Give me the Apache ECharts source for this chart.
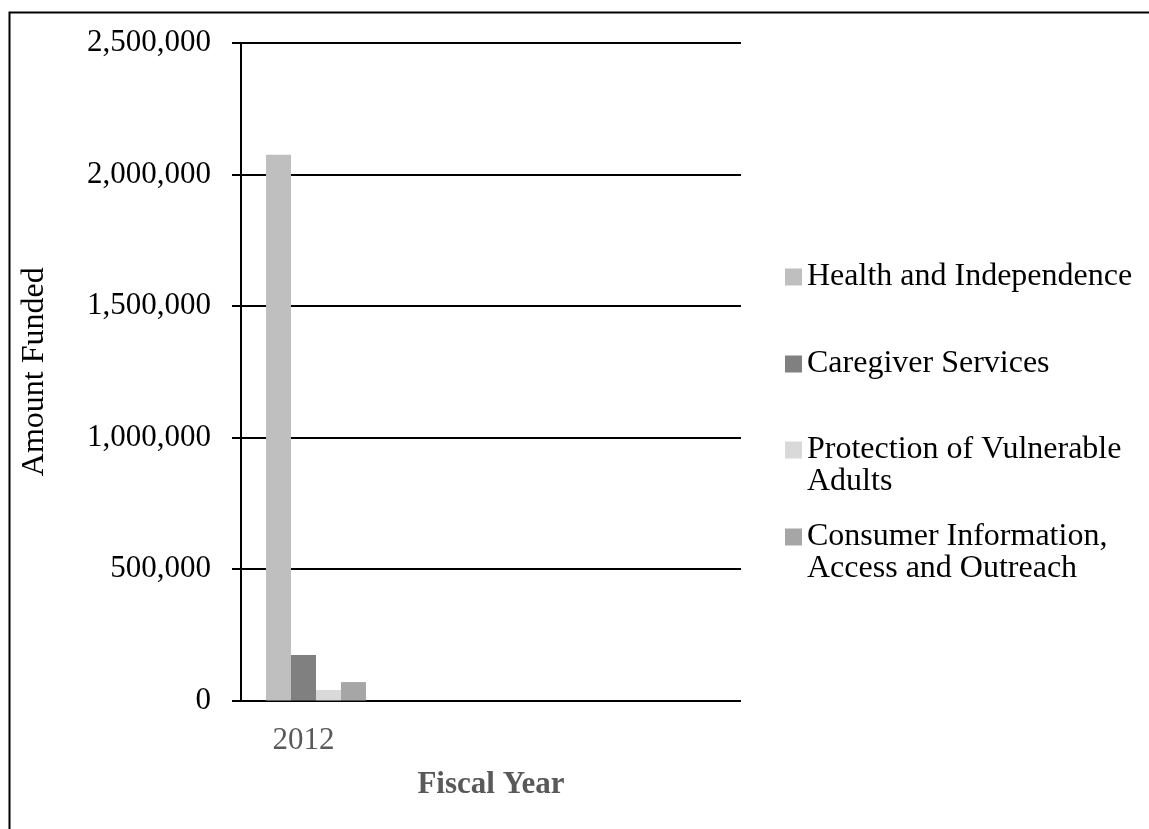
<!DOCTYPE html>
<html>
<head>
<meta charset="utf-8">
<script src="https://cdn.jsdelivr.net/npm/echarts@6/dist/echarts.min.js"></script>
<style>
  html, body { margin: 0; padding: 0; background: #ffffff; }
  #chart { width: 1149px; height: 829px; }
</style>
</head>
<body>
<div id="chart"></div>
<script>
// Fiscal years on the category axis (only 2012 has funding so far)
const categories = ['2012', '', '', ''];

// Amount funded per program area, by fiscal year
const healthIndependence = [2075000];
const caregiverServices = [173000];
const protectionVulnerable = [40000];
const consumerInformation = [70000];

const yTicks = { min: 0, max: 2500000, interval: 500000 };

const seriesNames = [
  'Health and Independence',
  'Caregiver Services',
  'Protection of Vulnerable Adults',
  'Consumer Information, Access and Outreach'
];
// wrapped legend text; a leading blank line keeps the swatch beside the first line
const legendLines = {
  'Health and Independence': 'Health and Independence',
  'Caregiver Services': 'Caregiver Services',
  'Protection of Vulnerable Adults': '\nProtection of Vulnerable\nAdults',
  'Consumer Information, Access and Outreach': '\nConsumer Information,\nAccess and Outreach'
};
const colors = ['#bfbfbf', '#808080', '#d9d9d9', '#a6a6a6'];
const seriesData = [healthIndependence, caregiverServices, protectionVulnerable, consumerInformation];

const FONT = 'Liberation Serif';
const LINE = 32;

const chart = echarts.init(document.getElementById('chart'), null, { renderer: 'canvas' });

// one legend block per series so each entry keeps its own vertical slot
const legendTops = [261, 348, 402, 489];
const legends = seriesNames.map((name, i) => ({
  data: [name],
  left: 785,
  top: legendTops[i],
  padding: 0,
  orient: 'vertical',
  icon: 'rect',
  itemWidth: 17,
  itemHeight: 17,
  selectedMode: false,
  formatter: n => legendLines[n],
  textStyle: {
    fontFamily: FONT,
    fontSize: 32,
    color: '#000000',
    lineHeight: LINE
  }
}));

// empty leading slot in each category, then the four program bars
const series = [{
  name: 'spacer',
  type: 'bar',
  data: categories.map(() => null),
  barGap: '0%',
  barCategoryGap: '0%',
  silent: true
}].concat(seriesNames.map((name, i) => ({
  name: name,
  type: 'bar',
  data: seriesData[i],
  barGap: '0%',
  barCategoryGap: '0%',
  itemStyle: { color: colors[i] }
})));

chart.setOption({
  animation: false,
  backgroundColor: '#ffffff',
  color: ['#ffffff'].concat(colors),
  grid: { left: 241, right: 408, top: 43, bottom: 128.5, containLabel: false },
  legend: legends,
  xAxis: {
    type: 'category',
    data: categories,
    name: 'Fiscal Year',
    nameLocation: 'middle',
    nameGap: 69,
    nameTextStyle: { fontFamily: FONT, fontSize: 31, fontWeight: 'bold', color: '#595959' },
    axisLine: { show: false },
    axisTick: { show: false },
    axisLabel: { fontFamily: FONT, fontSize: 31, color: '#595959', margin: 25, interval: 0 },
    splitLine: { show: false }
  },
  yAxis: {
    type: 'value',
    min: yTicks.min,
    max: yTicks.max,
    interval: yTicks.interval,
    name: 'Amount Funded',
    nameLocation: 'middle',
    nameGap: 190,
    nameRotate: 90,
    nameTextStyle: { fontFamily: FONT, fontSize: 32, color: '#000000' },
    axisLine: { show: true, lineStyle: { color: '#000000', width: 2 } },
    axisTick: { show: true, length: 9, lineStyle: { color: '#000000', width: 2 } },
    axisLabel: {
      fontFamily: FONT,
      fontSize: 31,
      color: '#000000',
      margin: 30,
      formatter: v => v.toLocaleString('en-US')
    },
    splitLine: { show: true, lineStyle: { color: '#000000', width: 2 } }
  },
  series: series,
  graphic: [{
    type: 'rect',
    left: 7,
    top: 10,
    shape: { x: 0, y: 0, width: 1200, height: 900 },
    style: { fill: 'none', stroke: '#000000', lineWidth: 2 },
    silent: true,
    z: 100
  }]
});
</script>
</body>
</html>
